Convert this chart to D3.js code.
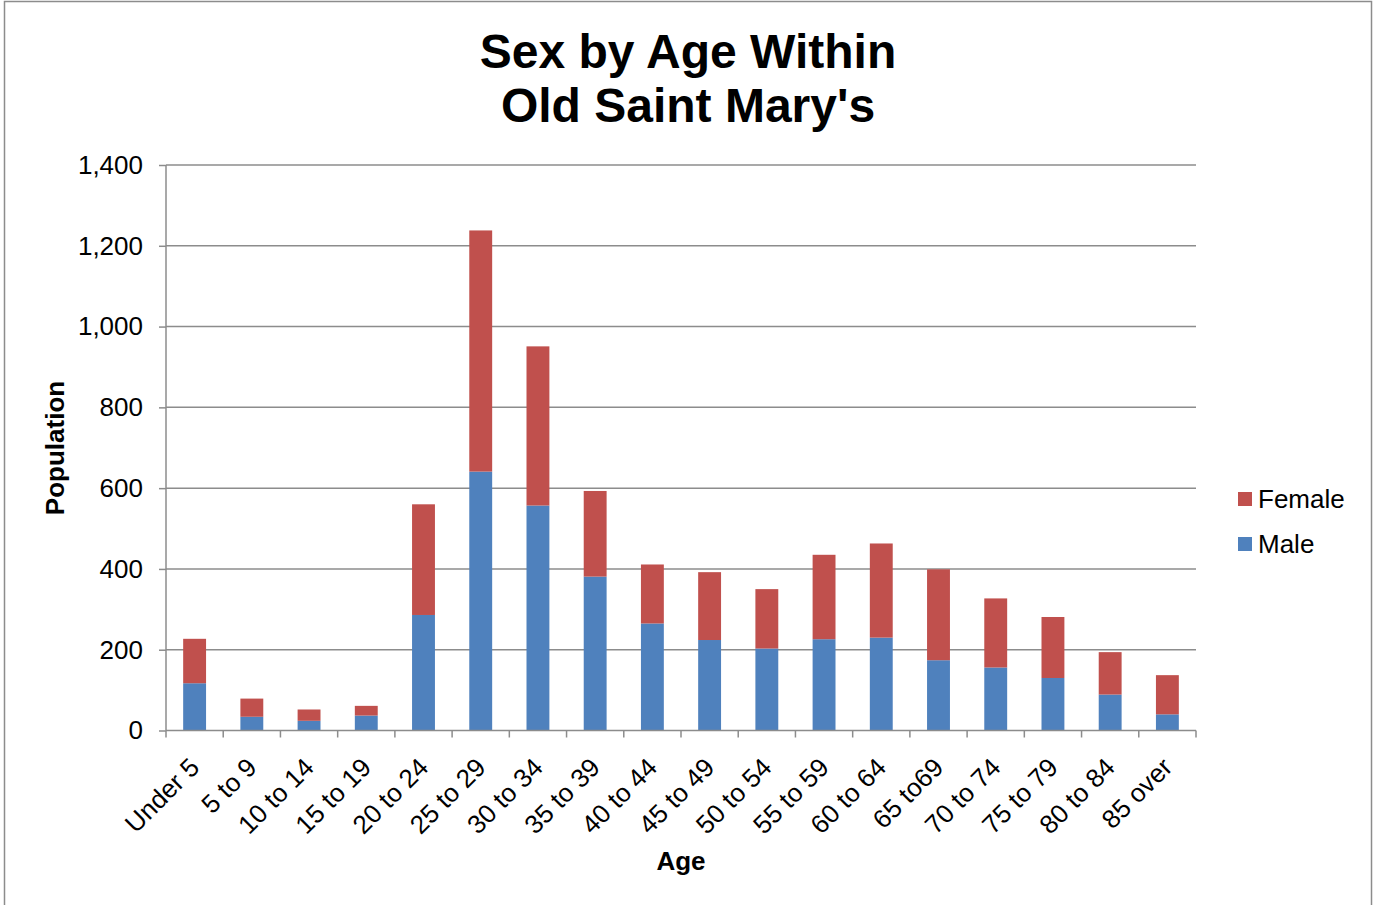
<!DOCTYPE html>
<html><head><meta charset="utf-8">
<script src="https://cdn.jsdelivr.net/npm/d3@7"></script>
<style>body{margin:0;background:#fff}svg{display:block}text{font-family:"Liberation Sans",Arial,sans-serif}</style>
</head><body><svg id="c" width="1375" height="905"></svg>
<script>
const categories = ["Under 5","5 to 9","10 to 14","15 to 19","20 to 24","25 to 29","30 to 34","35 to 39","40 to 44","45 to 49","50 to 54","55 to 59","60 to 64","65 to69","70 to 74","75 to 79","80 to 84","85 over"];
const male   = [117, 34, 24, 37, 286, 641, 557, 381, 265, 224, 203, 226, 230, 174, 156, 130, 89, 40];
const female = [110, 45, 28, 24, 274, 597, 394, 212, 146, 168, 147, 209, 233, 225, 171, 151, 105, 97];
const yTicks = [0,200,400,600,800,1000,1200,1400];
const seriesNames = ["Male","Female"];
const colors = {Male:"#4F81BD", Female:"#C0504D"};

const svg = d3.select("#c");
svg.append("rect").attr("x",4.5).attr("y",1.5).attr("width",1367).attr("height",920)
  .attr("fill","#fff").attr("stroke","#8c8c8c").attr("stroke-width",1.5);

const L=166,R=1196,T=165,B=730.5;
const x = d3.scaleBand().domain(categories).range([L,R]).paddingInner(0.6).paddingOuter(0.3);
const xb = d3.scaleBand().domain(categories).range([L,R]);
const y = d3.scaleLinear().domain([0,1400]).range([B,T]);

// gridlines
svg.append("g").selectAll("line").data(yTicks.filter(d=>d>0)).join("line")
  .attr("x1",L).attr("x2",R).attr("y1",d=>y(d)).attr("y2",d=>y(d))
  .attr("stroke","#8c8c8c").attr("stroke-width",1.5);

// y axis
const ya = svg.append("g").attr("transform",`translate(${L},0)`)
  .call(d3.axisLeft(y).tickValues(yTicks).tickSize(7).tickPadding(16).tickFormat(d3.format(",")));
ya.select(".domain").attr("stroke","#8c8c8c").attr("stroke-width",1.5).attr("d",`M0,${T}V${B}`);
ya.selectAll(".tick line").attr("stroke","#8c8c8c").attr("stroke-width",1.5);
ya.selectAll(".tick text").attr("font-size",26).attr("fill","#000").attr("font-family","Liberation Sans, Arial, sans-serif");

// stacked bars
const table = categories.map((c,i)=>({cat:c, Male:male[i], Female:female[i]}));
const stacked = d3.stack().keys(seriesNames)(table);
svg.append("g").selectAll("g").data(stacked).join("g").attr("fill",d=>colors[d.key])
  .selectAll("rect").data(d=>d).join("rect")
  .attr("x",d=>x(d.data.cat)).attr("width",x.bandwidth())
  .attr("y",d=>y(d[1])).attr("height",d=>y(d[0])-y(d[1]));

// x axis
const xa = svg.append("g").attr("transform",`translate(0,${B})`);
xa.append("line").attr("x1",L).attr("x2",R).attr("stroke","#8c8c8c").attr("stroke-width",1.5);
const bounds = categories.map(c=>xb(c)).concat([R]);
xa.selectAll("line.t").data(bounds).join("line").attr("class","t")
  .attr("x1",d=>d).attr("x2",d=>d).attr("y1",0).attr("y2",7)
  .attr("stroke","#8c8c8c").attr("stroke-width",1.5);
xa.selectAll("text").data(categories).join("text")
  .attr("transform",d=>`translate(${xb(d)+xb.bandwidth()/2},${32}) rotate(-45)`)
  .attr("text-anchor","end").attr("font-size",26).attr("dy","0.35em").text(d=>d);

// titles
svg.append("text").attr("x",688).attr("y",68).attr("text-anchor","middle")
  .attr("font-size",48).attr("font-weight","bold").text("Sex by Age Within");
svg.append("text").attr("x",688).attr("y",122).attr("text-anchor","middle")
  .attr("font-size",48).attr("font-weight","bold").text("Old Saint Mary's");
svg.append("text").attr("x",681).attr("y",870).attr("text-anchor","middle")
  .attr("font-size",26).attr("font-weight","bold").text("Age");
svg.append("text").attr("transform","translate(64,448) rotate(-90)").attr("text-anchor","middle")
  .attr("font-size",26).attr("font-weight","bold").text("Population");

// legend
const leg = [{k:"Female",y:499},{k:"Male",y:544}];
const lg = svg.append("g").selectAll("g").data(leg).join("g").attr("transform",d=>`translate(1238,${d.y})`);
lg.append("rect").attr("x",0).attr("y",-7).attr("width",14).attr("height",14).attr("fill",d=>colors[d.k]);
lg.append("text").attr("x",20).attr("y",0).attr("dy","0.35em").attr("font-size",26).text(d=>d.k);
</script></body></html>
